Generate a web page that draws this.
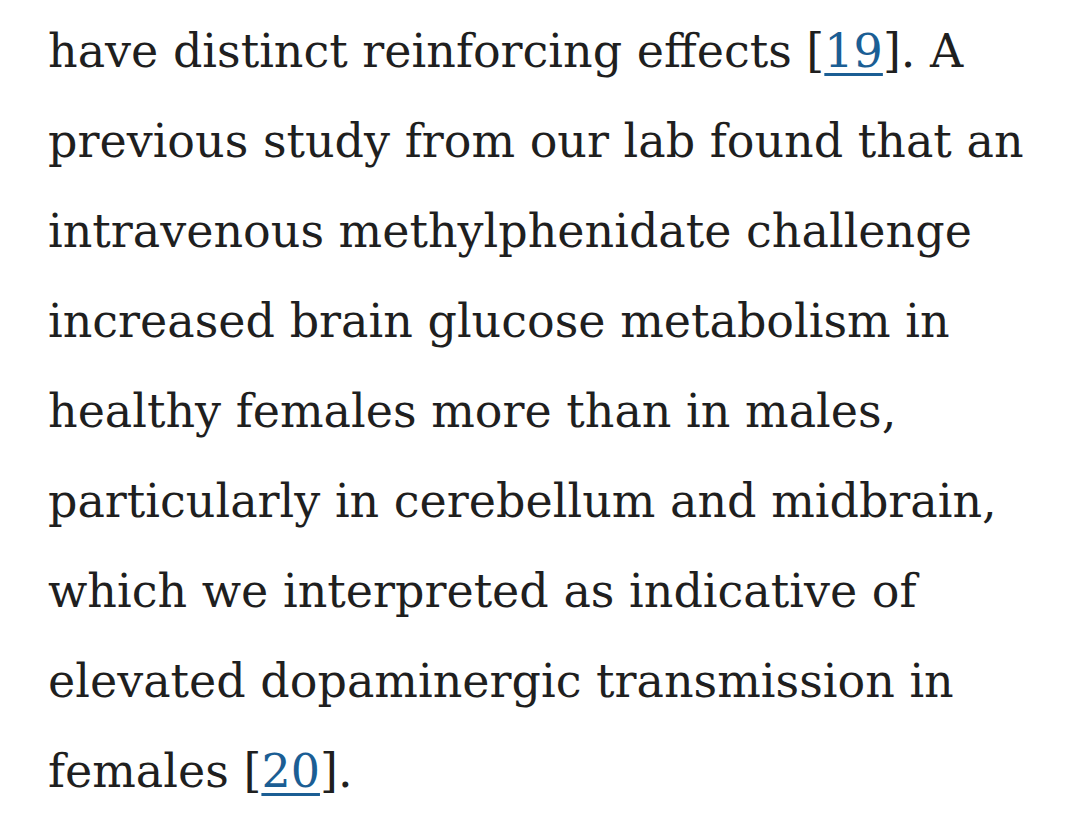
<!DOCTYPE html>
<html>
<head>
<meta charset="utf-8">
<script src="https://cdn.jsdelivr.net/npm/chart.js@4"></script>
<style>
  html, body { margin: 0; padding: 0; background: #ffffff; }
  body { width: 1080px; height: 829px; overflow: hidden; position: relative; }
  .line {
    position: absolute; left: 48px;
    font-family: "DejaVu Serif", "Liberation Serif", serif;
    font-size: 46px; line-height: 90px; color: #1f1f1f; white-space: pre;
  }
  .line a { color: #1b5e94; text-decoration: underline; text-decoration-thickness: 3px; text-underline-offset: 6px; }
</style>
</head>
<body>
<div id="page"></div>
<script>
// lines of the paragraph as they wrap in the picture
const lines = [
  "have distinct reinforcing effects [{19}]. A",
  "previous study from our lab found that an",
  "intravenous methylphenidate challenge",
  "increased brain glucose metabolism in",
  "healthy females more than in males,",
  "particularly in cerebellum and midbrain,",
  "which we interpreted as indicative of",
  "elevated dopaminergic transmission in",
  "females [{20}]."
];

const page = document.getElementById("page");
lines.forEach((txt, i) => {
  const div = document.createElement("div");
  div.className = "line";
  div.style.top = (6 + i * 90) + "px";
  div.innerHTML = txt.replace(/\{(\d+)\}/g, '<a href="#">$1</a>');
  page.appendChild(div);
});
</script>
</body>
</html>
